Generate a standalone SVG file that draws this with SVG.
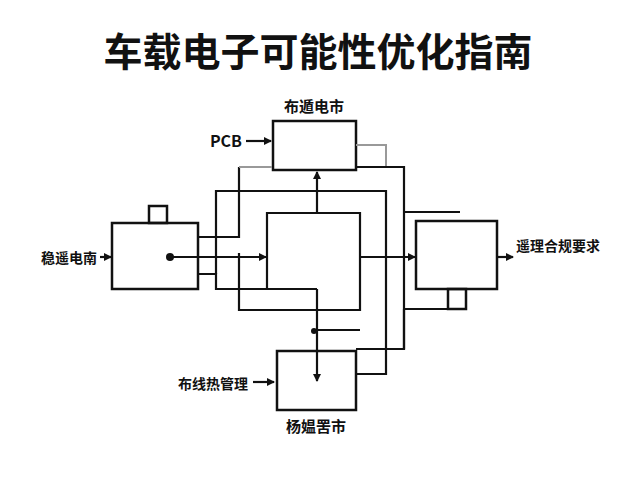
<svg xmlns="http://www.w3.org/2000/svg" width="640" height="480" viewBox="0 0 640 480">
<style>
.b{fill:none;stroke:#111;stroke-width:2.5}
.l{fill:none;stroke:#111;stroke-width:2.2}
.g{fill:none;stroke:#999;stroke-width:2}
.t{font-family:"Noto Sans CJK SC","Liberation Sans",sans-serif;font-weight:bold;fill:#111;font-size:15px}
</style>
<defs><marker id="a" markerWidth="8" markerHeight="8" refX="7" refY="4" orient="auto" markerUnits="userSpaceOnUse"><path d="M0,0L8,4L0,8z" fill="#111"/></marker></defs>
<rect width="640" height="480" fill="#fff"/>
<text x="318" y="66" text-anchor="middle" class="t" style="font-size:39px">车载电子可能性优化指南</text>
<g id="top"><rect class="b" x="273" y="121" width="83" height="49"/><text class="t" x="314" y="112" text-anchor="middle">布遁电市</text><text class="t" x="242" y="147" text-anchor="end" style="font-size:16px">PCB</text></g>
<g id="left"><rect class="b" x="149" y="206" width="18" height="17"/><rect class="b" x="112" y="223" width="86" height="66"/><text class="t" x="69" y="263" text-anchor="middle" style="font-size:14px">稳遥电南</text></g>
<g id="right"><rect class="b" x="448" y="289" width="18" height="20"/><rect class="b" x="416" y="221" width="81" height="68"/><text class="t" x="516" y="251" style="font-size:14px">遥理合规要求</text></g>
<g id="bottom"><rect class="b" x="277" y="351" width="79" height="59"/><text class="t" x="248" y="389" text-anchor="end" style="font-size:14px">布线热管理</text><text class="t" x="316" y="432" text-anchor="middle">杨媪罟市</text></g>
<g id="connectors">
<path class="l" d="M198,237H239V167"/><path class="g" d="M239,167H272"/>
<path class="l" d="M198,274H216V289H317"/>
<path class="l" d="M216,274V191H386V374H356"/>
<path class="g" d="M356,145H386V167"/>
<path class="l" d="M356,167H404V349H356"/>
<path class="l" d="M404,212H460M404,309H466M404,349V309"/>
<path class="l" d="M239,253V310H360V213H267V289"/>
<path class="l" d="M317,330H360"/>
<path class="l" d="M317,213V172" marker-end="url(#a)"/>
<path class="l" d="M317,289V381" marker-end="url(#a)"/>
<circle cx="314" cy="331" r="3" fill="#111"/>
<circle cx="170" cy="257" r="4" fill="#111"/>
<path class="l" d="M170,257H266" marker-end="url(#a)"/>
<path class="l" d="M360,257H415" marker-end="url(#a)"/>
<path class="l" d="M497,257H513" marker-end="url(#a)"/>
<path class="l" d="M246,141H271" marker-end="url(#a)"/>
<path class="l" d="M100,257H111" marker-end="url(#a)"/>
<path class="l" d="M253,382H274" marker-end="url(#a)"/>
</g>
</svg>
